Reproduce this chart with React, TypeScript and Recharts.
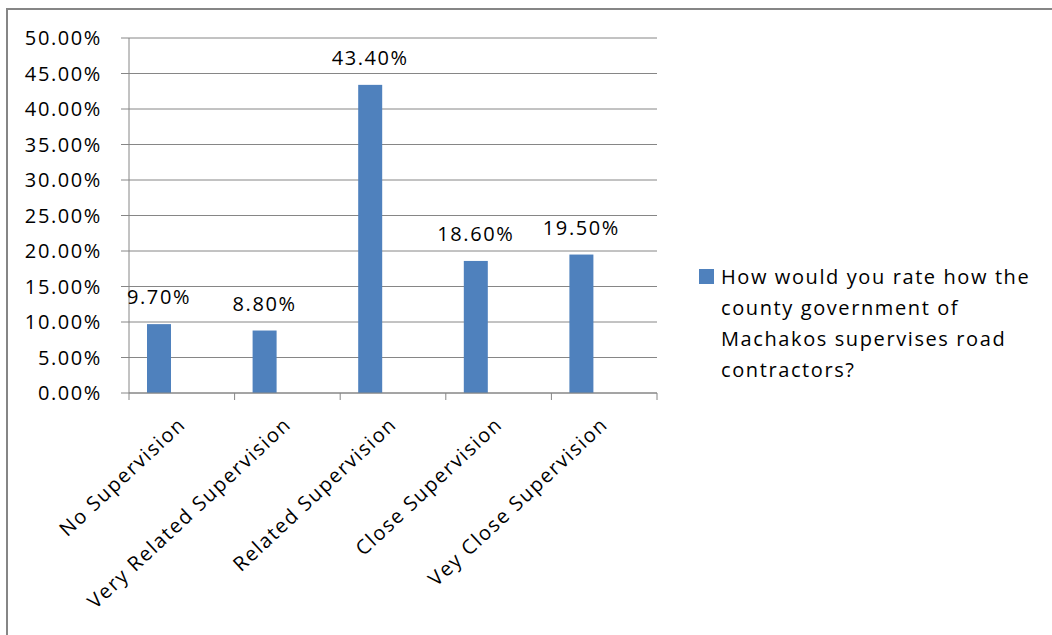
import React from "react";
import {
  Bar,
  BarChart,
  CartesianGrid,
  LabelList,
  XAxis,
  YAxis,
} from "recharts";

const categories = [
  "No Supervision",
  "Very Related Supervision",
  "Related Supervision",
  "Close Supervision",
  "Vey Close Supervision",
];
const shares = [0.097, 0.088, 0.434, 0.186, 0.195];
const yTicks = [0, 0.05, 0.1, 0.15, 0.2, 0.25, 0.3, 0.35, 0.4, 0.45, 0.5];
const seriesName =
  "How would you rate how the county government of Machakos supervises road contractors?";
const legendLines = [
  "How would you rate how the",
  "county government of",
  "Machakos supervises road",
  "contractors?",
];

const data = categories.map((name, i) => ({ name, share: shares[i] }));

const FONT = "'Open Sans', sans-serif";
const FONT_SIZE = 20;
const SPACING = 1.6;
const BAR_COLOR = "#4F81BD";
const AXIS_COLOR = "#868686";
const BAR_SHIFT = -23;

const pct = (v: number) => `${(v * 100).toFixed(2)}%`;

function ShiftedBar(props: any) {
  const { x, y, width, height } = props;
  return <rect x={x + BAR_SHIFT} y={y} width={width} height={height} fill={BAR_COLOR} />;
}

function ValueLabel(props: any) {
  const { x, y, width, value } = props;
  return (
    <text
      x={x + width / 2 + BAR_SHIFT}
      y={y - 27}
      dy="0.35em"
      textAnchor="middle"
      fontFamily={FONT}
      fontSize={FONT_SIZE}
      letterSpacing={SPACING}
      fill="#000"
    >
      {pct(Number(value))}
    </text>
  );
}

function CategoryTick(props: any) {
  const { x, y, payload, index, visibleTicksCount } = props;
  const half = payload?.offset ?? 52.8;
  const tx = x + 5;
  const ty = y + 33;
  return (
    <g>
      <line x1={x - half} y1={y} x2={x - half} y2={y + 7} stroke={AXIS_COLOR} />
      {index === visibleTicksCount - 1 && (
        <line x1={x + half} y1={y} x2={x + half} y2={y + 7} stroke={AXIS_COLOR} />
      )}
      <text
        x={tx}
        y={ty}
        textAnchor="end"
        transform={`rotate(-43, ${tx}, ${ty})`}
        fontFamily={FONT}
        fontSize={FONT_SIZE}
        letterSpacing={SPACING}
        fill="#000"
      >
        {payload.value}
      </text>
    </g>
  );
}

function SeriesLegend() {
  return (
    <div
      style={{
        position: "absolute",
        left: 699,
        top: 261,
        display: "flex",
        fontFamily: FONT,
        fontSize: FONT_SIZE,
        letterSpacing: SPACING,
        color: "#000",
      }}
    >
      <div style={{ width: 15, height: 15, background: BAR_COLOR, marginTop: 8, marginRight: 7, flex: "none" }} />
      <div style={{ lineHeight: "31px", whiteSpace: "nowrap" }} title={seriesName}>
        {legendLines.map((l) => (
          <div key={l}>{l}</div>
        ))}
      </div>
    </div>
  );
}

export default function App() {
  return (
    <div
      style={{
        position: "fixed",
        left: 0,
        top: 0,
        width: 1052,
        height: 635,
        overflow: "hidden",
        background: "#fff",
      }}
    >
      <div
        style={{
          position: "absolute",
          left: 6,
          top: 8,
          width: 1100,
          height: 700,
          border: `2px solid ${AXIS_COLOR}`,
        }}
      />
      <div style={{ position: "absolute", left: 0, top: 0 }}>
        <BarChart
          width={1052}
          height={635}
          data={data}
          margin={{ top: 38, right: 395, bottom: 42, left: 0 }}
        >
          <CartesianGrid stroke={AXIS_COLOR} vertical={false} />
          <XAxis
            dataKey="name"
            interval={0}
            height={200}
            stroke={AXIS_COLOR}
            tickLine={false}
            tickSize={0}
            tickMargin={0}
            tick={<CategoryTick />}
          />
          <YAxis
            domain={[0, 0.5]}
            ticks={yTicks}
            interval={0}
            width={129}
            stroke={AXIS_COLOR}
            tickSize={8}
            tickMargin={19}
            tickFormatter={pct}
            tick={{ fill: "#000", fontFamily: FONT, fontSize: FONT_SIZE, letterSpacing: SPACING }}
          />
          <Bar
            dataKey="share"
            name={seriesName}
            barSize={24}
            shape={<ShiftedBar />}
            isAnimationActive={false}
          >
            <LabelList dataKey="share" content={<ValueLabel />} />
          </Bar>
        </BarChart>
      </div>
      <SeriesLegend />
    </div>
  );
}
